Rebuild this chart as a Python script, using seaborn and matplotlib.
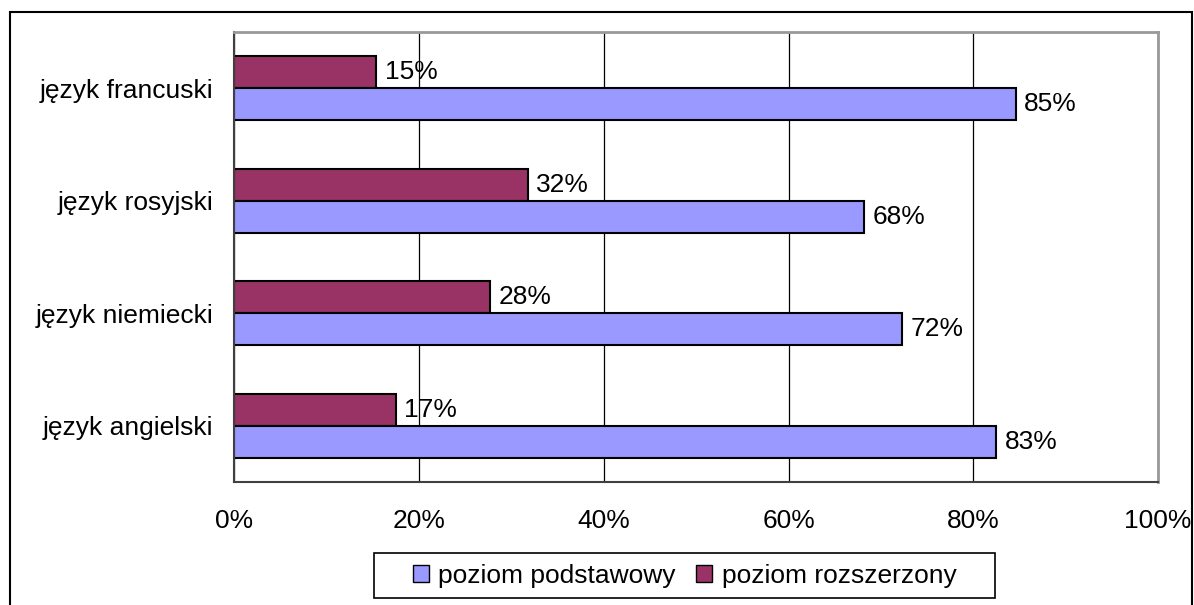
import pandas as pd
import matplotlib.pyplot as plt
import matplotlib.patches as mpatches
import seaborn as sns

languages = ["język francuski", "język rosyjski", "język niemiecki", "język angielski"]
rozszerzony = [15.4, 31.8, 27.7, 17.5]
podstawowy = [84.6, 68.2, 72.3, 82.5]
labels_rozsz = ["15%", "32%", "28%", "17%"]
labels_podst = ["85%", "68%", "72%", "83%"]
xticks = [0, 20, 40, 60, 80, 100]

df = pd.DataFrame({
    "jezyk": languages * 2,
    "poziom": ["poziom rozszerzony"] * 4 + ["poziom podstawowy"] * 4,
    "procent": rozszerzony + podstawowy,
})

sns.set_style("white")
plt.rcParams["font.family"] = ["Liberation Sans", "DejaVu Sans"]
plt.rcParams["font.size"] = 19
plt.rcParams["text.color"] = "black"

colors = {"poziom rozszerzony": "#993366", "poziom podstawowy": "#9999FF"}

W, H = 1194, 605
fig = plt.figure(figsize=(11.94, 6.05), dpi=100)
ax = fig.add_axes([0.196, 0.203, 0.774, 0.744])

sns.barplot(data=df, x="procent", y="jezyk", hue="poziom", orient="h",
            hue_order=["poziom rozszerzony", "poziom podstawowy"],
            palette=colors, width=0.57, edgecolor="black", linewidth=1.5,
            saturation=1, ax=ax, legend=False)

for cont, labs in zip(ax.containers, [labels_rozsz, labels_podst]):
    ax.bar_label(cont, labels=labs, padding=6, fontsize=19, color="black")

ax.set_xlim(0, 100)
ax.set_ylim(3.5, -0.5)
ax.set_xticks(xticks)
ax.set_xticklabels([f"{t}%" for t in xticks])
ax.tick_params(axis="x", length=7, width=1, color="#404040", pad=12, labelsize=19,
               labelcolor="black")
ax.set_yticks(range(4))
ax.set_yticklabels(languages)
ax.tick_params(axis="y", which="major", length=0, pad=15, labelsize=19, labelcolor="black")
ax.set_yticks([-0.5, 0.5, 1.5, 2.5, 3.5], minor=True)
ax.tick_params(axis="y", which="minor", length=7, width=1, color="#404040")
ax.set_xlabel("")
ax.set_ylabel("")

ax.set_axisbelow(True)
ax.grid(axis="x", color="black", linewidth=0.9)
ax.grid(axis="y", visible=False)
for side in ["top", "right"]:
    ax.spines[side].set_color("#999999")
    ax.spines[side].set_linewidth(2)
for side in ["left", "bottom"]:
    ax.spines[side].set_color("#404040")
    ax.spines[side].set_linewidth(1.5)

# legend (frame drawn separately to get the wide side padding)
handles = [mpatches.Patch(facecolor="#9999FF", edgecolor="black", label="poziom podstawowy"),
           mpatches.Patch(facecolor="#993366", edgecolor="black", label="poziom rozszerzony")]
leg = fig.legend(handles=handles, loc="center", bbox_to_anchor=(684.5 / W, 1 - 575.5 / H),
                 ncol=2, frameon=False, fontsize=19,
                 handlelength=0.6, handleheight=0.6, handletextpad=0.35, columnspacing=0.8,
                 borderpad=0, borderaxespad=0)
for t in leg.get_texts():
    t.set_color("black")
fig.patches.append(mpatches.Rectangle((374 / W, 1 - 598 / H), 621 / W, 45 / H,
                                      transform=fig.transFigure, fill=False,
                                      edgecolor="black", linewidth=1.2))

# outer chart border
fig.patches.append(mpatches.Rectangle((10 / W, -0.05), 1182 / W, 1.05 - 12 / H,
                                      transform=fig.transFigure, fill=False,
                                      edgecolor="black", linewidth=1.5))

fig.savefig("out.png", dpi=100)
